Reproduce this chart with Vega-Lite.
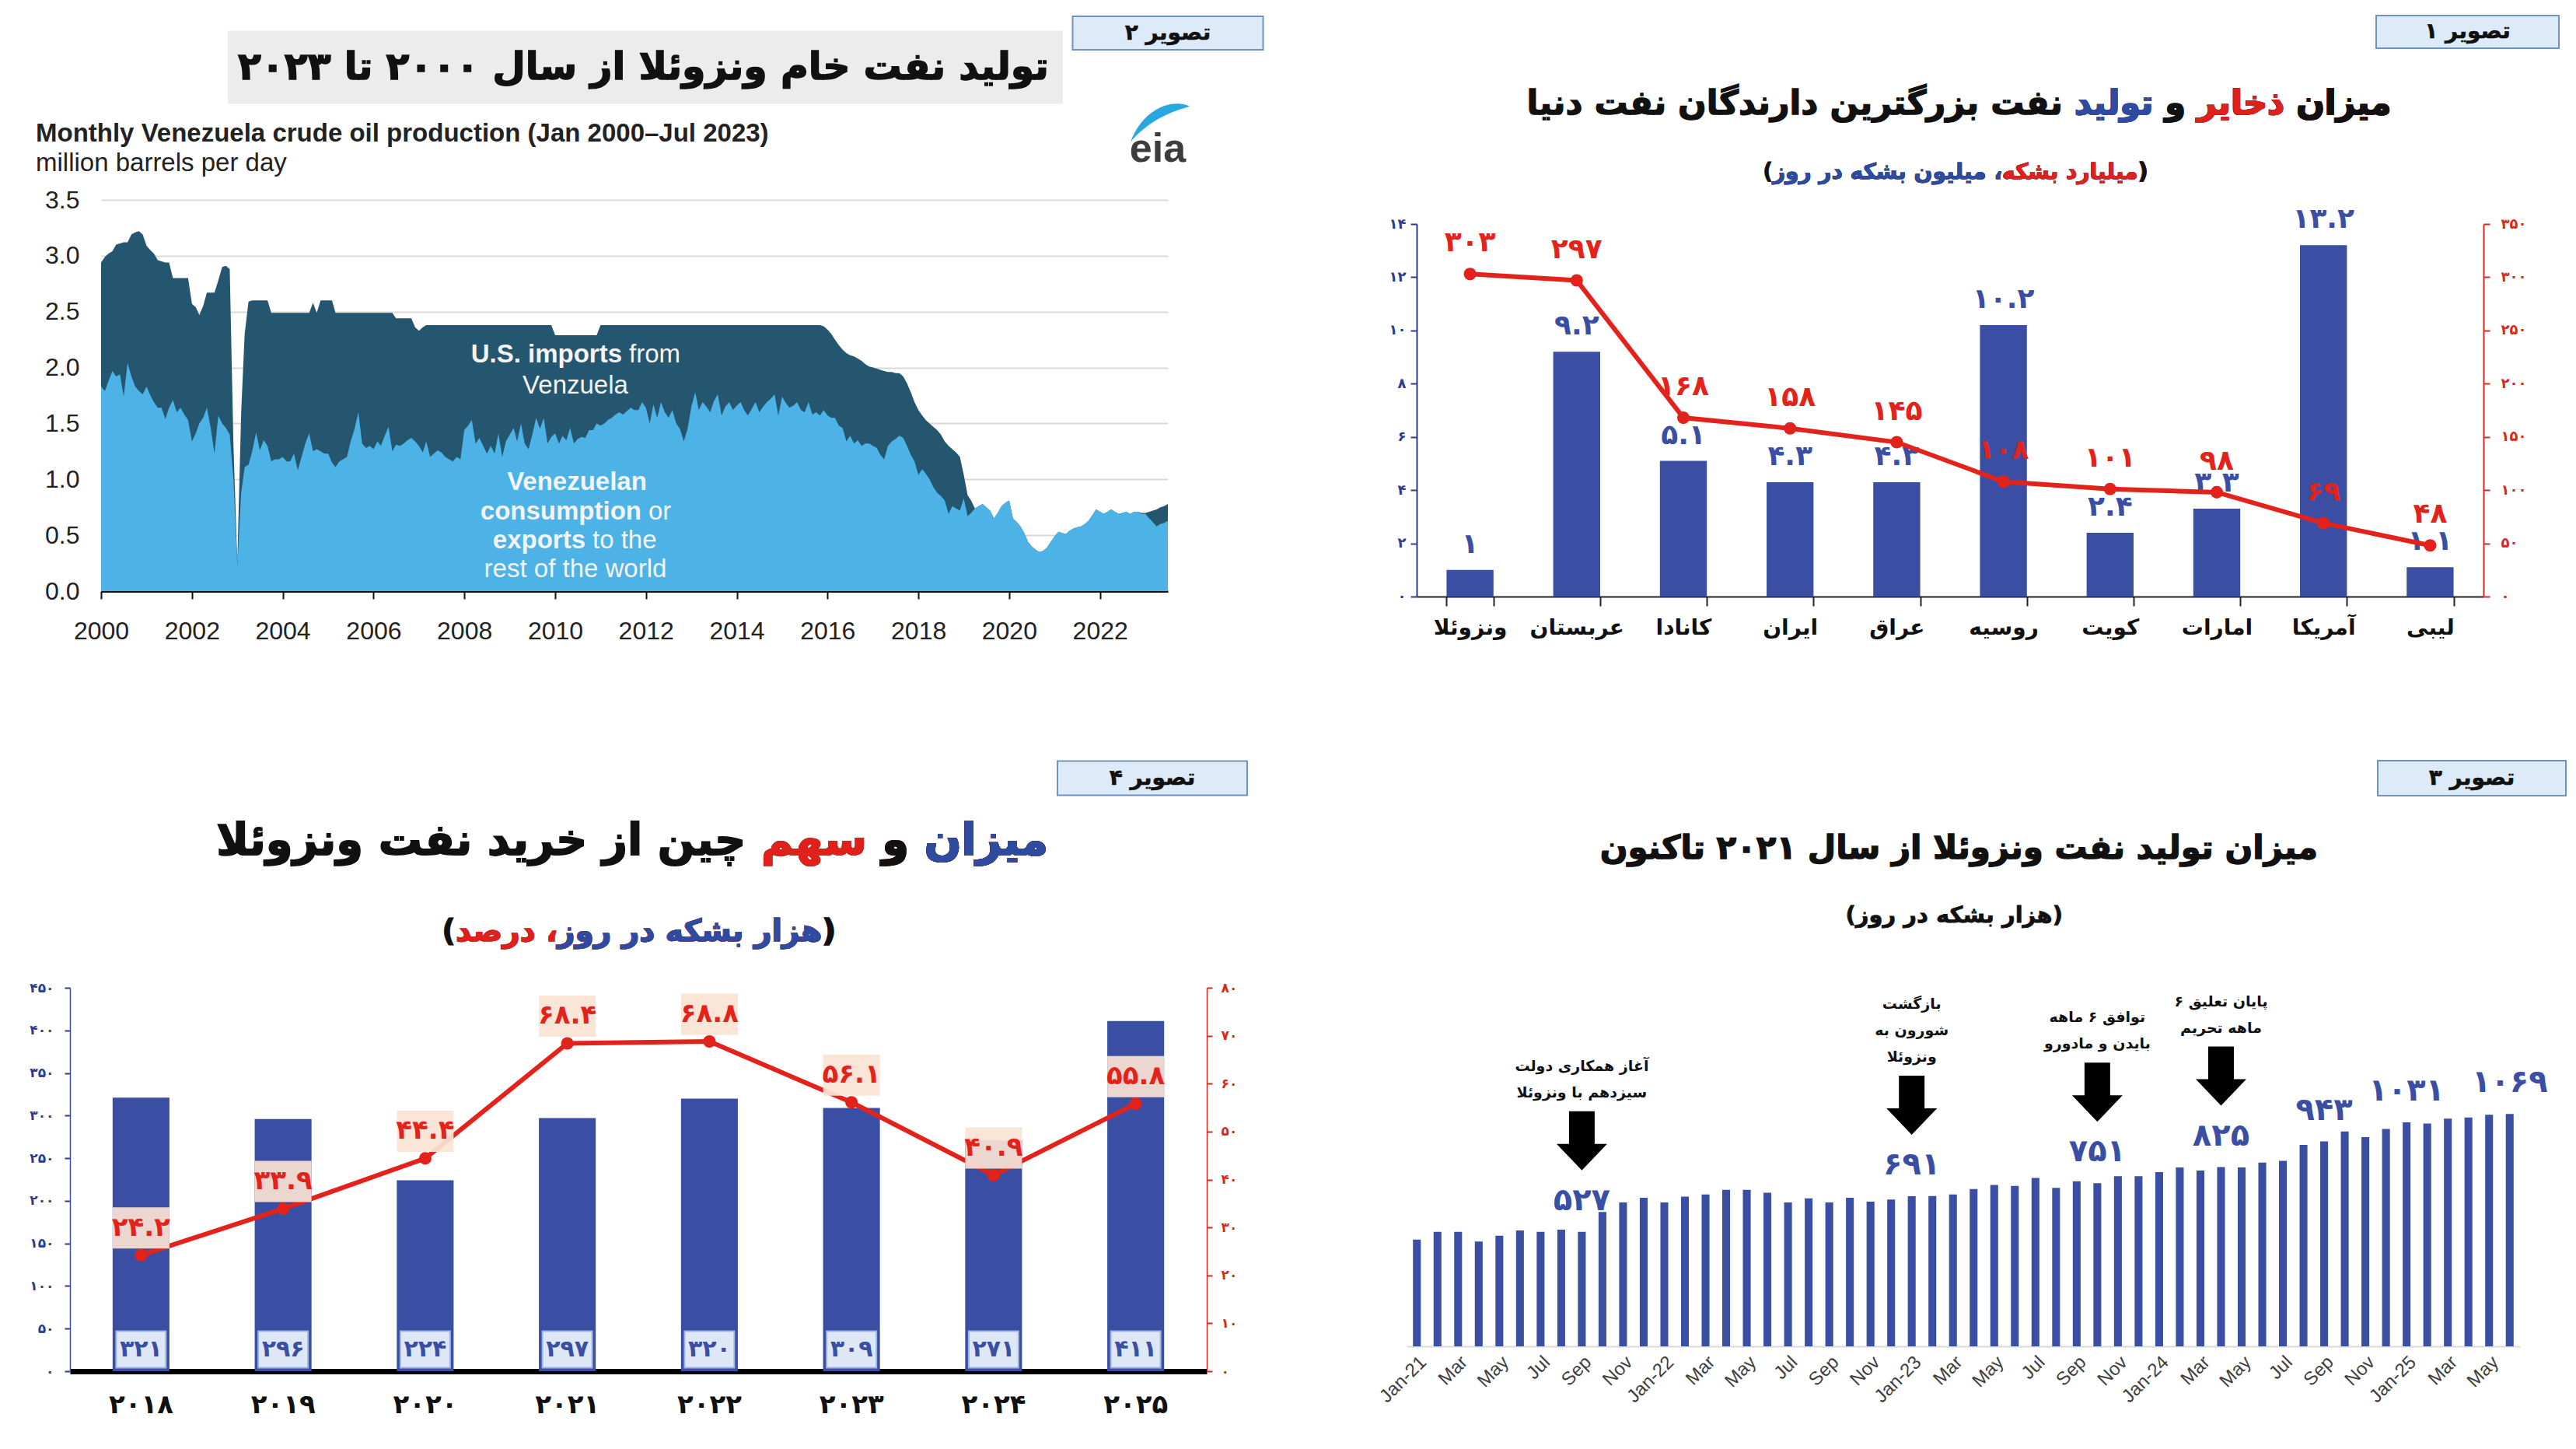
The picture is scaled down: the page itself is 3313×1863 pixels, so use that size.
{
  "$schema": "https://vega.github.io/schema/vega-lite/v6.json",
  "padding": 0,
  "background": "white",
  "config": {"view": {"stroke": null}, "text": {"font": "DejaVu Sans"}},
  "datasets": {
    "eia": [
      {"d":"2000-01","total":2.94,"rest":1.83},{"d":"2000-02","total":2.99,"rest":1.79},{"d":"2000-03","total":3.02,"rest":1.88},{"d":"2000-04","total":3.04,"rest":1.97},{"d":"2000-05","total":3.10,"rest":1.92},{"d":"2000-06","total":3.11,"rest":1.94},{"d":"2000-07","total":3.12,"rest":1.74},{"d":"2000-08","total":3.12,"rest":2.04},{"d":"2000-09","total":3.19,"rest":1.92},{"d":"2000-10","total":3.21,"rest":1.83},{"d":"2000-11","total":3.22,"rest":1.79},{"d":"2000-12","total":3.19,"rest":1.76},
      {"d":"2001-01","total":3.09,"rest":1.83},{"d":"2001-02","total":3.05,"rest":1.75},{"d":"2001-03","total":3.02,"rest":1.69},{"d":"2001-04","total":2.96,"rest":1.64},{"d":"2001-05","total":2.95,"rest":1.64},{"d":"2001-06","total":2.94,"rest":1.54},{"d":"2001-07","total":2.94,"rest":1.64},{"d":"2001-08","total":2.80,"rest":1.71},{"d":"2001-09","total":2.80,"rest":1.60},{"d":"2001-10","total":2.80,"rest":1.64},{"d":"2001-11","total":2.80,"rest":1.58},{"d":"2001-12","total":2.80,"rest":1.53},
      {"d":"2002-01","total":2.57,"rest":1.34},{"d":"2002-02","total":2.54,"rest":1.41},{"d":"2002-03","total":2.47,"rest":1.50},{"d":"2002-04","total":2.55,"rest":1.55},{"d":"2002-05","total":2.67,"rest":1.64},{"d":"2002-06","total":2.67,"rest":1.46},{"d":"2002-07","total":2.67,"rest":1.23},{"d":"2002-08","total":2.78,"rest":1.57},{"d":"2002-09","total":2.90,"rest":1.50},{"d":"2002-10","total":2.91,"rest":1.46},{"d":"2002-11","total":2.88,"rest":1.40},{"d":"2002-12","total":1.30,"rest":1.00},
      {"d":"2003-01","total":0.25,"rest":0.23},{"d":"2003-02","total":1.60,"rest":0.88},{"d":"2003-03","total":2.30,"rest":1.11},{"d":"2003-04","total":2.59,"rest":1.13},{"d":"2003-05","total":2.60,"rest":1.25},{"d":"2003-06","total":2.60,"rest":1.42},{"d":"2003-07","total":2.60,"rest":1.26},{"d":"2003-08","total":2.60,"rest":1.35},{"d":"2003-09","total":2.60,"rest":1.30},{"d":"2003-10","total":2.49,"rest":1.16},{"d":"2003-11","total":2.49,"rest":1.18},{"d":"2003-12","total":2.49,"rest":1.18},
      {"d":"2004-01","total":2.49,"rest":1.20},{"d":"2004-02","total":2.49,"rest":1.16},{"d":"2004-03","total":2.49,"rest":1.16},{"d":"2004-04","total":2.49,"rest":1.23},{"d":"2004-05","total":2.49,"rest":1.08},{"d":"2004-06","total":2.49,"rest":1.20},{"d":"2004-07","total":2.49,"rest":1.32},{"d":"2004-08","total":2.49,"rest":1.41},{"d":"2004-09","total":2.58,"rest":1.25},{"d":"2004-10","total":2.49,"rest":1.27},{"d":"2004-11","total":2.60,"rest":1.25},{"d":"2004-12","total":2.60,"rest":1.23},
      {"d":"2005-01","total":2.60,"rest":1.23},{"d":"2005-02","total":2.60,"rest":1.15},{"d":"2005-03","total":2.49,"rest":1.11},{"d":"2005-04","total":2.49,"rest":1.16},{"d":"2005-05","total":2.49,"rest":1.18},{"d":"2005-06","total":2.49,"rest":1.20},{"d":"2005-07","total":2.49,"rest":1.34},{"d":"2005-08","total":2.49,"rest":1.45},{"d":"2005-09","total":2.49,"rest":1.60},{"d":"2005-10","total":2.49,"rest":1.32},{"d":"2005-11","total":2.49,"rest":1.28},{"d":"2005-12","total":2.49,"rest":1.30},
      {"d":"2006-01","total":2.49,"rest":1.27},{"d":"2006-02","total":2.49,"rest":1.34},{"d":"2006-03","total":2.49,"rest":1.30},{"d":"2006-04","total":2.49,"rest":1.39},{"d":"2006-05","total":2.49,"rest":1.47},{"d":"2006-06","total":2.49,"rest":1.25},{"d":"2006-07","total":2.44,"rest":1.31},{"d":"2006-08","total":2.44,"rest":1.30},{"d":"2006-09","total":2.44,"rest":1.32},{"d":"2006-10","total":2.44,"rest":1.35},{"d":"2006-11","total":2.44,"rest":1.37},{"d":"2006-12","total":2.36,"rest":1.34},
      {"d":"2007-01","total":2.33,"rest":1.30},{"d":"2007-02","total":2.36,"rest":1.24},{"d":"2007-03","total":2.38,"rest":1.34},{"d":"2007-04","total":2.38,"rest":1.20},{"d":"2007-05","total":2.38,"rest":1.23},{"d":"2007-06","total":2.38,"rest":1.26},{"d":"2007-07","total":2.38,"rest":1.24},{"d":"2007-08","total":2.38,"rest":1.20},{"d":"2007-09","total":2.38,"rest":1.18},{"d":"2007-10","total":2.38,"rest":1.16},{"d":"2007-11","total":2.38,"rest":1.20},{"d":"2007-12","total":2.38,"rest":1.18},
      {"d":"2008-01","total":2.38,"rest":1.44},{"d":"2008-02","total":2.38,"rest":1.48},{"d":"2008-03","total":2.38,"rest":1.53},{"d":"2008-04","total":2.38,"rest":1.32},{"d":"2008-05","total":2.38,"rest":1.37},{"d":"2008-06","total":2.38,"rest":1.30},{"d":"2008-07","total":2.38,"rest":1.23},{"d":"2008-08","total":2.38,"rest":1.30},{"d":"2008-09","total":2.38,"rest":1.23},{"d":"2008-10","total":2.38,"rest":1.41},{"d":"2008-11","total":2.38,"rest":1.20},{"d":"2008-12","total":2.38,"rest":1.34},
      {"d":"2009-01","total":2.38,"rest":1.40},{"d":"2009-02","total":2.38,"rest":1.46},{"d":"2009-03","total":2.38,"rest":1.34},{"d":"2009-04","total":2.38,"rest":1.50},{"d":"2009-05","total":2.38,"rest":1.32},{"d":"2009-06","total":2.38,"rest":1.27},{"d":"2009-07","total":2.38,"rest":1.40},{"d":"2009-08","total":2.38,"rest":1.55},{"d":"2009-09","total":2.38,"rest":1.45},{"d":"2009-10","total":2.38,"rest":1.55},{"d":"2009-11","total":2.38,"rest":1.32},{"d":"2009-12","total":2.38,"rest":1.38},
      {"d":"2010-01","total":2.29,"rest":1.41},{"d":"2010-02","total":2.29,"rest":1.32},{"d":"2010-03","total":2.29,"rest":1.39},{"d":"2010-04","total":2.29,"rest":1.35},{"d":"2010-05","total":2.29,"rest":1.46},{"d":"2010-06","total":2.29,"rest":1.32},{"d":"2010-07","total":2.29,"rest":1.36},{"d":"2010-08","total":2.29,"rest":1.38},{"d":"2010-09","total":2.29,"rest":1.37},{"d":"2010-10","total":2.29,"rest":1.44},{"d":"2010-11","total":2.29,"rest":1.44},{"d":"2010-12","total":2.29,"rest":1.50},
      {"d":"2011-01","total":2.38,"rest":1.48},{"d":"2011-02","total":2.38,"rest":1.50},{"d":"2011-03","total":2.38,"rest":1.53},{"d":"2011-04","total":2.38,"rest":1.55},{"d":"2011-05","total":2.38,"rest":1.58},{"d":"2011-06","total":2.38,"rest":1.60},{"d":"2011-07","total":2.38,"rest":1.58},{"d":"2011-08","total":2.38,"rest":1.61},{"d":"2011-09","total":2.38,"rest":1.64},{"d":"2011-10","total":2.38,"rest":1.62},{"d":"2011-11","total":2.38,"rest":1.62},{"d":"2011-12","total":2.38,"rest":1.69},
      {"d":"2012-01","total":2.38,"rest":1.64},{"d":"2012-02","total":2.38,"rest":1.50},{"d":"2012-03","total":2.38,"rest":1.67},{"d":"2012-04","total":2.38,"rest":1.55},{"d":"2012-05","total":2.38,"rest":1.69},{"d":"2012-06","total":2.38,"rest":1.60},{"d":"2012-07","total":2.38,"rest":1.55},{"d":"2012-08","total":2.38,"rest":1.62},{"d":"2012-09","total":2.38,"rest":1.50},{"d":"2012-10","total":2.38,"rest":1.45},{"d":"2012-11","total":2.38,"rest":1.34},{"d":"2012-12","total":2.38,"rest":1.45},
      {"d":"2013-01","total":2.38,"rest":1.65},{"d":"2013-02","total":2.38,"rest":1.78},{"d":"2013-03","total":2.38,"rest":1.62},{"d":"2013-04","total":2.38,"rest":1.69},{"d":"2013-05","total":2.38,"rest":1.65},{"d":"2013-06","total":2.38,"rest":1.60},{"d":"2013-07","total":2.38,"rest":1.70},{"d":"2013-08","total":2.38,"rest":1.76},{"d":"2013-09","total":2.38,"rest":1.57},{"d":"2013-10","total":2.38,"rest":1.65},{"d":"2013-11","total":2.38,"rest":1.69},{"d":"2013-12","total":2.38,"rest":1.62},
      {"d":"2014-01","total":2.38,"rest":1.66},{"d":"2014-02","total":2.38,"rest":1.69},{"d":"2014-03","total":2.38,"rest":1.62},{"d":"2014-04","total":2.38,"rest":1.57},{"d":"2014-05","total":2.38,"rest":1.63},{"d":"2014-06","total":2.38,"rest":1.69},{"d":"2014-07","total":2.38,"rest":1.60},{"d":"2014-08","total":2.38,"rest":1.65},{"d":"2014-09","total":2.38,"rest":1.69},{"d":"2014-10","total":2.38,"rest":1.72},{"d":"2014-11","total":2.38,"rest":1.76},{"d":"2014-12","total":2.38,"rest":1.57},
      {"d":"2015-01","total":2.38,"rest":1.74},{"d":"2015-02","total":2.38,"rest":1.68},{"d":"2015-03","total":2.38,"rest":1.64},{"d":"2015-04","total":2.38,"rest":1.66},{"d":"2015-05","total":2.38,"rest":1.69},{"d":"2015-06","total":2.38,"rest":1.62},{"d":"2015-07","total":2.38,"rest":1.60},{"d":"2015-08","total":2.38,"rest":1.69},{"d":"2015-09","total":2.38,"rest":1.58},{"d":"2015-10","total":2.38,"rest":1.60},{"d":"2015-11","total":2.38,"rest":1.57},{"d":"2015-12","total":2.37,"rest":1.62},
      {"d":"2016-01","total":2.34,"rest":1.57},{"d":"2016-02","total":2.30,"rest":1.55},{"d":"2016-03","total":2.25,"rest":1.55},{"d":"2016-04","total":2.20,"rest":1.48},{"d":"2016-05","total":2.16,"rest":1.46},{"d":"2016-06","total":2.13,"rest":1.34},{"d":"2016-07","total":2.11,"rest":1.39},{"d":"2016-08","total":2.10,"rest":1.32},{"d":"2016-09","total":2.08,"rest":1.35},{"d":"2016-10","total":2.06,"rest":1.30},{"d":"2016-11","total":2.03,"rest":1.32},{"d":"2016-12","total":2.01,"rest":1.32},
      {"d":"2017-01","total":2.00,"rest":1.30},{"d":"2017-02","total":1.99,"rest":1.28},{"d":"2017-03","total":1.98,"rest":1.22},{"d":"2017-04","total":1.97,"rest":1.18},{"d":"2017-05","total":1.96,"rest":1.30},{"d":"2017-06","total":1.96,"rest":1.34},{"d":"2017-07","total":1.95,"rest":1.36},{"d":"2017-08","total":1.95,"rest":1.39},{"d":"2017-09","total":1.92,"rest":1.37},{"d":"2017-10","total":1.86,"rest":1.30},{"d":"2017-11","total":1.78,"rest":1.22},{"d":"2017-12","total":1.69,"rest":1.16},
      {"d":"2018-01","total":1.62,"rest":1.04},{"d":"2018-02","total":1.57,"rest":1.09},{"d":"2018-03","total":1.53,"rest":1.05},{"d":"2018-04","total":1.50,"rest":1.00},{"d":"2018-05","total":1.47,"rest":0.93},{"d":"2018-06","total":1.44,"rest":0.88},{"d":"2018-07","total":1.40,"rest":0.85},{"d":"2018-08","total":1.34,"rest":0.81},{"d":"2018-09","total":1.30,"rest":0.69},{"d":"2018-10","total":1.27,"rest":0.76},{"d":"2018-11","total":1.24,"rest":0.74},{"d":"2018-12","total":1.20,"rest":0.72},
      {"d":"2019-01","total":1.04,"rest":0.83},{"d":"2019-02","total":0.86,"rest":0.67},{"d":"2019-03","total":0.81,"rest":0.70},{"d":"2019-04","total":0.74,"rest":0.74},{"d":"2019-05","total":0.76,"rest":0.76},{"d":"2019-06","total":0.78,"rest":0.78},{"d":"2019-07","total":0.75,"rest":0.75},{"d":"2019-08","total":0.72,"rest":0.72},{"d":"2019-09","total":0.65,"rest":0.65},{"d":"2019-10","total":0.70,"rest":0.70},{"d":"2019-11","total":0.76,"rest":0.76},{"d":"2019-12","total":0.79,"rest":0.79},
      {"d":"2020-01","total":0.81,"rest":0.81},{"d":"2020-02","total":0.65,"rest":0.65},{"d":"2020-03","total":0.62,"rest":0.62},{"d":"2020-04","total":0.58,"rest":0.58},{"d":"2020-05","total":0.52,"rest":0.52},{"d":"2020-06","total":0.44,"rest":0.44},{"d":"2020-07","total":0.40,"rest":0.40},{"d":"2020-08","total":0.37,"rest":0.37},{"d":"2020-09","total":0.35,"rest":0.35},{"d":"2020-10","total":0.36,"rest":0.36},{"d":"2020-11","total":0.39,"rest":0.39},{"d":"2020-12","total":0.44,"rest":0.44},
      {"d":"2021-01","total":0.49,"rest":0.49},{"d":"2021-02","total":0.53,"rest":0.53},{"d":"2021-03","total":0.52,"rest":0.52},{"d":"2021-04","total":0.51,"rest":0.51},{"d":"2021-05","total":0.54,"rest":0.54},{"d":"2021-06","total":0.56,"rest":0.56},{"d":"2021-07","total":0.57,"rest":0.57},{"d":"2021-08","total":0.58,"rest":0.58},{"d":"2021-09","total":0.60,"rest":0.60},{"d":"2021-10","total":0.63,"rest":0.63},{"d":"2021-11","total":0.68,"rest":0.68},{"d":"2021-12","total":0.73,"rest":0.73},
      {"d":"2022-01","total":0.71,"rest":0.71},{"d":"2022-02","total":0.69,"rest":0.69},{"d":"2022-03","total":0.71,"rest":0.71},{"d":"2022-04","total":0.73,"rest":0.73},{"d":"2022-05","total":0.71,"rest":0.71},{"d":"2022-06","total":0.69,"rest":0.69},{"d":"2022-07","total":0.70,"rest":0.70},{"d":"2022-08","total":0.71,"rest":0.71},{"d":"2022-09","total":0.69,"rest":0.69},{"d":"2022-10","total":0.71,"rest":0.71},{"d":"2022-11","total":0.71,"rest":0.71},{"d":"2022-12","total":0.70,"rest":0.69},
      {"d":"2023-01","total":0.70,"rest":0.69},{"d":"2023-02","total":0.71,"rest":0.65},{"d":"2023-03","total":0.72,"rest":0.62},{"d":"2023-04","total":0.73,"rest":0.58},{"d":"2023-05","total":0.75,"rest":0.60},{"d":"2023-06","total":0.76,"rest":0.61},{"d":"2023-07","total":0.78,"rest":0.63}
    ],
    "p1": [
      {"c":"ونزوئلا","prod":1,"res":303},{"c":"عربستان","prod":9.2,"res":297},{"c":"کانادا","prod":5.1,"res":168},{"c":"ایران","prod":4.3,"res":158},{"c":"عراق","prod":4.3,"res":145},{"c":"روسیه","prod":10.2,"res":108},{"c":"کویت","prod":2.4,"res":101},{"c":"امارات","prod":3.3,"res":98},{"c":"آمریکا","prod":13.2,"res":69},{"c":"لیبی","prod":1.1,"res":48}
    ],
    "p3": [
      {"m":"Jan-21","v":491},{"m":"Feb-21","v":527},{"m":"Mar-21","v":527},{"m":"Apr-21","v":482},{"m":"May-21","v":509},{"m":"Jun-21","v":533},{"m":"Jul-21","v":527},{"m":"Aug-21","v":537},{"m":"Sep-21","v":527},{"m":"Oct-21","v":618},{"m":"Nov-21","v":662},{"m":"Dec-21","v":684},
      {"m":"Jan-22","v":662},{"m":"Feb-22","v":689},{"m":"Mar-22","v":699},{"m":"Apr-22","v":720},{"m":"May-22","v":720},{"m":"Jun-22","v":707},{"m":"Jul-22","v":662},{"m":"Aug-22","v":681},{"m":"Sep-22","v":662},{"m":"Oct-22","v":684},{"m":"Nov-22","v":666},{"m":"Dec-22","v":676},
      {"m":"Jan-23","v":691},{"m":"Feb-23","v":692},{"m":"Mar-23","v":699},{"m":"Apr-23","v":724},{"m":"May-23","v":743},{"m":"Jun-23","v":738},{"m":"Jul-23","v":775},{"m":"Aug-23","v":729},{"m":"Sep-23","v":760},{"m":"Oct-23","v":751},{"m":"Nov-23","v":783},{"m":"Dec-23","v":783},
      {"m":"Jan-24","v":802},{"m":"Feb-24","v":823},{"m":"Mar-24","v":809},{"m":"Apr-24","v":825},{"m":"May-24","v":823},{"m":"Jun-24","v":846},{"m":"Jul-24","v":854},{"m":"Aug-24","v":927},{"m":"Sep-24","v":943},{"m":"Oct-24","v":989},{"m":"Nov-24","v":963},{"m":"Dec-24","v":1000},
      {"m":"Jan-25","v":1031},{"m":"Feb-25","v":1025},{"m":"Mar-25","v":1048},{"m":"Apr-25","v":1053},{"m":"May-25","v":1066},{"m":"Jun-25","v":1069}
    ],
    "notes": [
      {"m":"Sep-21","note":["","آغاز همکاری دولت","سیزدهم با ونزوئلا"]},
      {"m":"Jan-23","note":["بازگشت","شورون به","ونزوئلا"]},
      {"m":"Oct-23","note":["","توافق ۶ ماهه","بایدن و مادورو"]},
      {"m":"Apr-24","note":["","پایان تعلیق ۶","ماهه تحریم"]}
    ],
    "p4": [
      {"yr":"2018","v":321,"s":24.2},{"yr":"2019","v":296,"s":33.9},{"yr":"2020","v":224,"s":44.4},{"yr":"2021","v":297,"s":68.4},{"yr":"2022","v":320,"s":68.8},{"yr":"2023","v":309,"s":56.1},{"yr":"2024","v":271,"s":40.9},{"yr":"2025","v":411,"s":55.8}
    ]
  },
  "columns": 4,
  "bounds": "flush",
  "align": "each",
  "spacing": 0,
  "concat": [
    {"width": 90, "height": 257, "data": {"values": []}, "mark": {"type": "point", "opacity": 0}},
    {"width": 1, "height": 1, "data": {"values": []}, "mark": {"type": "point", "opacity": 0}},
    {"width": 257, "height": 1, "data": {"values": []}, "mark": {"type": "point", "opacity": 0}},
    {"width": 1, "height": 1, "data": {"values": []}, "mark": {"type": "point", "opacity": 0}},

    {"width": 1, "height": 1, "data": {"values": []}, "mark": {"type": "point", "opacity": 0}},
    {
      "width": 1412, "height": 503,
      "data": {"name": "eia"},
      "layer": [
        {
          "mark": {"type": "area", "color": "#24566f", "opacity": 1},
          "encoding": {
            "x": {"field": "d", "type": "temporal", "scale": {"domain": [{"year": 2000, "month": 1, "date": 1}, {"year": 2023, "month": 7, "date": 1}], "range": [40, 1412]},
                  "axis": {"title": null, "format": "%Y", "tickCount": {"interval": "year", "step": 2}, "grid": false, "labelFont": "Liberation Sans", "labelFontSize": 32, "labelColor": "#222", "labelPadding": 26, "labelFlush": false, "domainColor": "#111", "domainWidth": 3, "tickColor": "#111", "tickWidth": 2, "tickSize": 10}},
            "y": {"field": "total", "type": "quantitative", "scale": {"domain": [0, 3.5], "nice": false},
                  "axis": {"title": null, "offset": -40, "values": [0, 0.5, 1, 1.5, 2, 2.5, 3, 3.5], "format": ".1f", "grid": true, "gridColor": "#d9d9d9", "gridWidth": 2, "domain": false, "ticks": false, "labelFont": "Liberation Sans", "labelFontSize": 32, "labelColor": "#222", "labelPadding": 28}}
          }
        },
        {
          "mark": {"type": "area", "color": "#4db3e6", "opacity": 1},
          "encoding": {
            "x": {"field": "d", "type": "temporal"},
            "y": {"field": "rest", "type": "quantitative"}
          }
        },
        {"data": {"values": [{}]}, "mark": {"type": "text", "text": "U.S. imports", "align": "right", "baseline": "middle", "dx": 4, "dy": -53, "font": "Liberation Sans", "fontWeight": "bold", "fontSize": 33, "color": "#f4f4f4"}},
        {"data": {"values": [{}]}, "mark": {"type": "text", "text": "from", "align": "left", "baseline": "middle", "dx": 13, "dy": -53, "font": "Liberation Sans", "fontSize": 33, "color": "#f4f4f4"}},
        {"data": {"values": [{}]}, "mark": {"type": "text", "text": "Venzuela", "align": "center", "baseline": "middle", "dx": -56, "dy": -13, "font": "Liberation Sans", "fontSize": 33, "color": "#f4f4f4"}},
        {"data": {"values": [{}]}, "mark": {"type": "text", "text": "Venezuelan", "align": "center", "baseline": "middle", "dx": -54, "dy": 111, "font": "Liberation Sans", "fontWeight": "bold", "fontSize": 33, "color": "#f4f4f4"}},
        {"data": {"values": [{}]}, "mark": {"type": "text", "text": "consumption", "align": "right", "baseline": "middle", "dx": 29, "dy": 149, "font": "Liberation Sans", "fontWeight": "bold", "fontSize": 33, "color": "#f4f4f4"}},
        {"data": {"values": [{}]}, "mark": {"type": "text", "text": "or", "align": "left", "baseline": "middle", "dx": 38, "dy": 149, "font": "Liberation Sans", "fontSize": 33, "color": "#f4f4f4"}},
        {"data": {"values": [{}]}, "mark": {"type": "text", "text": "exports", "align": "right", "baseline": "middle", "dx": -43, "dy": 186, "font": "Liberation Sans", "fontWeight": "bold", "fontSize": 33, "color": "#f4f4f4"}},
        {"data": {"values": [{}]}, "mark": {"type": "text", "text": "to the", "align": "left", "baseline": "middle", "dx": -34, "dy": 186, "font": "Liberation Sans", "fontSize": 33, "color": "#f4f4f4"}},
        {"data": {"values": [{}]}, "mark": {"type": "text", "text": "rest of the world", "align": "center", "baseline": "middle", "dx": -56, "dy": 223, "font": "Liberation Sans", "fontSize": 33, "color": "#f4f4f4"}},
        {"data": {"values": [{}]}, "mark": {"type": "text", "text": "Monthly Venezuela crude oil production (Jan 2000–Jul 2023)", "align": "left", "baseline": "middle", "dx": -750, "dy": -337, "font": "Liberation Sans", "fontWeight": "bold", "fontSize": 33, "color": "#222"}},
        {"data": {"values": [{}]}, "mark": {"type": "text", "text": "million barrels per day", "align": "left", "baseline": "middle", "dx": -750, "dy": -299, "font": "Liberation Sans", "fontSize": 33, "color": "#222"}},
        {"data": {"values": [{}]}, "mark": {"type": "point", "shape": "M-1,0.5C-0.6,-0.6,0.4,-1,1,-0.7C0.3,-0.5,-0.4,-0.2,-1,0.5Z", "size": 5776, "filled": true, "color": "#29a8e0", "opacity": 1, "xOffset": 696, "yOffset": -345}},
        {"data": {"values": [{}]}, "mark": {"type": "text", "text": "eia", "align": "center", "baseline": "middle", "dx": 693, "dy": -317, "font": "Liberation Sans", "fontWeight": "bold", "fontSize": 52, "color": "#3d3d3d"}},
        {"data": {"values": [{}]}, "mark": {"type": "point", "shape": "M-1,-0.0875L1,-0.0875L1,0.0875L-1,0.0875Z", "size": 1153476, "filled": true, "color": "#ececec", "opacity": 1, "xOffset": 34, "yOffset": -422}},
        {"data": {"values": [{}]}, "mark": {"type": "text", "text": "تولید نفت خام ونزوئلا از سال ۲۰۰۰ تا ۲۰۲۳", "align": "right", "baseline": "middle", "dx": 553, "dy": -422, "font": "DejaVu Sans", "fontWeight": "bold", "fontSize": 49, "color": "#111", "stroke": "#111", "strokeWidth": 1.5}},
        {"data": {"values": [{}]}, "mark": {"type": "point", "shape": "M-1,-0.1755L1,-0.1755L1,0.1755L-1,0.1755Z", "size": 60025, "filled": true, "fill": "#dcebf7", "stroke": "#6f93c0", "strokeWidth": 2, "opacity": 1, "xOffset": 706, "yOffset": -466}},
        {"data": {"values": [{}]}, "mark": {"type": "text", "text": "تصویر ۲", "align": "center", "baseline": "middle", "dx": 706, "dy": -466, "font": "DejaVu Sans", "fontWeight": "bold", "fontSize": 28, "color": "#111", "stroke": "#111", "strokeWidth": 0.6}}
      ]
    },
    {"width": 1, "height": 1, "data": {"values": []}, "mark": {"type": "point", "opacity": 0}},
    {
      "width": 1385, "height": 510,
      "data": {"name": "p1"},
      "resolve": {"scale": {"y": "independent"}},
      "layer": [
        {
          "encoding": {
            "x": {"field": "c", "type": "nominal", "sort": null, "scale": {"paddingInner": 0.56, "paddingOuter": 0.28, "range": [13, 1385]},
                  "axis": {"title": null, "labelAngle": 0, "labelFont": "DejaVu Sans", "labelFontWeight": "bold", "labelFontSize": 28, "labelColor": "#111", "labelPadding": 14, "domainColor": "#222", "domainWidth": 2, "ticks": true, "tickColor": "#222", "tickWidth": 2, "tickSize": 12, "tickBand": "extent"}},
            "y": {"field": "prod", "type": "quantitative", "scale": {"domain": [0, 14], "nice": false, "range": [510, 31]},
                  "axis": {"title": null, "offset": -13, "values": [0, 2, 4, 6, 8, 10, 12, 14], "grid": false, "labelExpr": "replace(replace(replace(replace(replace(replace(replace(replace(replace(replace(''+datum.label,/0/g,'۰'),/1/g,'۱'),/2/g,'۲'),/3/g,'۳'),/4/g,'۴'),/5/g,'۵'),/6/g,'۶'),/7/g,'۷'),/8/g,'۸'),/9/g,'۹')", "labelColor": "#2e3a8c", "labelFontSize": 18, "labelFont": "DejaVu Sans", "labelFontWeight": "bold", "domainColor": "#2e3a8c", "domainWidth": 2, "tickColor": "#2e3a8c", "tickSize": 8, "tickWidth": 2, "labelPadding": 6}}
          },
          "layer": [
            {"mark": {"type": "bar", "color": "#3a4fa3"}},
            {"mark": {"type": "text", "text": {"expr": "replace(replace(replace(replace(replace(replace(replace(replace(replace(replace(''+datum.prod,/0/g,'۰'),/1/g,'۱'),/2/g,'۲'),/3/g,'۳'),/4/g,'۴'),/5/g,'۵'),/6/g,'۶'),/7/g,'۷'),/8/g,'۸'),/9/g,'۹')"}, "dy": -33, "baseline": "middle", "font": "DejaVu Sans", "fontWeight": "bold", "fontSize": 36, "color": "#3a4fa3"}}
          ]
        },
        {
          "encoding": {
            "x": {"field": "c", "type": "nominal", "sort": null},
            "y": {"field": "res", "type": "quantitative", "scale": {"domain": [0, 350], "nice": false, "range": [510, 31]},
                  "axis": {"orient": "right", "title": null, "values": [0, 50, 100, 150, 200, 250, 300, 350], "grid": false, "labelExpr": "replace(replace(replace(replace(replace(replace(replace(replace(replace(replace(''+datum.label,/0/g,'۰'),/1/g,'۱'),/2/g,'۲'),/3/g,'۳'),/4/g,'۴'),/5/g,'۵'),/6/g,'۶'),/7/g,'۷'),/8/g,'۸'),/9/g,'۹')", "labelColor": "#d42a20", "labelFontSize": 18, "labelFont": "DejaVu Sans", "labelFontWeight": "bold", "domainColor": "#d42a20", "domainWidth": 2, "tickColor": "#d42a20", "tickSize": 8, "tickWidth": 2, "labelPadding": 14}}
          },
          "layer": [
            {"mark": {"type": "line", "color": "#e3221b", "strokeWidth": 6}},
            {"mark": {"type": "point", "filled": true, "color": "#e3221b", "size": 260, "opacity": 1}},
            {"mark": {"type": "text", "text": {"expr": "replace(replace(replace(replace(replace(replace(replace(replace(replace(replace(''+datum.res,/0/g,'۰'),/1/g,'۱'),/2/g,'۲'),/3/g,'۳'),/4/g,'۴'),/5/g,'۵'),/6/g,'۶'),/7/g,'۷'),/8/g,'۸'),/9/g,'۹')"}, "dy": -40, "baseline": "middle", "font": "DejaVu Sans", "fontWeight": "bold", "fontSize": 36, "color": "#e3221b"}}
          ]
        },
        {"data": {"values": [{}]}, "mark": {"type": "point", "shape": "M-1,-0.1787L1,-0.1787L1,0.1787L-1,0.1787Z", "size": 55225, "filled": true, "fill": "#dcebf7", "stroke": "#6f93c0", "strokeWidth": 2, "opacity": 1, "xOffset": 672, "yOffset": -471}},
        {"data": {"values": [{}]}, "mark": {"type": "text", "text": "تصویر ۱", "align": "center", "baseline": "middle", "dx": 672, "dy": -471, "font": "DejaVu Sans", "fontWeight": "bold", "fontSize": 28, "color": "#111", "stroke": "#111", "strokeWidth": 0.6}},
        {"data": {"values": [{}]}, "mark": {"type": "text", "text": "میزان ذخایر و تولید نفت بزرگترین دارندگان نفت دنیا", "align": "right", "baseline": "middle", "dx": 574, "dy": -378, "font": "DejaVu Sans", "fontWeight": "bold", "fontSize": 43, "color": "#111", "stroke": "#111", "strokeWidth": 1.4}},
        {"data": {"values": [{}]}, "mark": {"type": "text", "text": "میزان ذخایر و تولید", "align": "right", "baseline": "middle", "dx": 574, "dy": -378, "font": "DejaVu Sans", "fontWeight": "bold", "fontSize": 43, "color": "#2f4ba0", "stroke": "#2f4ba0", "strokeWidth": 1.4}},
        {"data": {"values": [{}]}, "mark": {"type": "text", "text": "میزان ذخایر و", "align": "right", "baseline": "middle", "dx": 574, "dy": -378, "font": "DejaVu Sans", "fontWeight": "bold", "fontSize": 43, "color": "#111", "stroke": "#111", "strokeWidth": 1.4}},
        {"data": {"values": [{}]}, "mark": {"type": "text", "text": "میزان ذخایر", "align": "right", "baseline": "middle", "dx": 574, "dy": -378, "font": "DejaVu Sans", "fontWeight": "bold", "fontSize": 43, "color": "#e0201b", "stroke": "#e0201b", "strokeWidth": 1.4}},
        {"data": {"values": [{}]}, "mark": {"type": "text", "text": "میزان", "align": "right", "baseline": "middle", "dx": 574, "dy": -378, "font": "DejaVu Sans", "fontWeight": "bold", "fontSize": 43, "color": "#111", "stroke": "#111", "strokeWidth": 1.4}},
        {"data": {"values": [{}]}, "mark": {"type": "text", "text": "(میلیارد بشکه، میلیون بشکه در روز)", "align": "right", "baseline": "middle", "dx": 261, "dy": -290, "font": "DejaVu Sans", "fontWeight": "bold", "fontSize": 28, "color": "#111", "stroke": "#111", "strokeWidth": 0.8}},
        {"data": {"values": [{}]}, "mark": {"type": "text", "text": "میلیارد بشکه، میلیون بشکه در روز)", "align": "right", "baseline": "middle", "dx": 261, "dy": -290, "font": "DejaVu Sans", "fontWeight": "bold", "fontSize": 28, "color": "#2f4ba0", "stroke": "#2f4ba0", "strokeWidth": 0.8}},
        {"data": {"values": [{}]}, "mark": {"type": "text", "text": "میلیارد بشکه)", "align": "right", "baseline": "middle", "dx": 261, "dy": -290, "font": "DejaVu Sans", "fontWeight": "bold", "fontSize": 28, "color": "#e0201b", "stroke": "#e0201b", "strokeWidth": 0.8}},
        {"data": {"values": [{}]}, "mark": {"type": "text", "text": ")", "align": "right", "baseline": "middle", "dx": 261, "dy": -290, "font": "DejaVu Sans", "fontWeight": "bold", "fontSize": 28, "color": "#111", "stroke": "#111", "strokeWidth": 0.8}}
      ]
    },

    {"width": 1, "height": 503, "data": {"values": []}, "mark": {"type": "point", "opacity": 0}},
    {"width": 1, "height": 1, "data": {"values": []}, "mark": {"type": "point", "opacity": 0}},
    {"width": 1, "height": 1, "data": {"values": []}, "mark": {"type": "point", "opacity": 0}},
    {"width": 1, "height": 1, "data": {"values": []}, "mark": {"type": "point", "opacity": 0}},

    {"width": 1, "height": 1, "data": {"values": []}, "mark": {"type": "point", "opacity": 0}},
    {
      "width": 1462, "height": 493,
      "data": {"name": "p4"},
      "resolve": {"scale": {"y": "independent"}},
      "layer": [
        {
          "encoding": {
            "x": {"field": "yr", "type": "nominal", "sort": null, "scale": {"paddingInner": 0.6, "paddingOuter": 0.3},
                  "axis": {"title": null, "labelAngle": 0, "labelExpr": "replace(replace(replace(replace(replace(replace(replace(replace(replace(replace(''+datum.label,/0/g,'۰'),/1/g,'۱'),/2/g,'۲'),/3/g,'۳'),/4/g,'۴'),/5/g,'۵'),/6/g,'۶'),/7/g,'۷'),/8/g,'۸'),/9/g,'۹')", "labelFont": "DejaVu Sans", "labelFontWeight": "bold", "labelFontSize": 34, "labelColor": "#111", "labelPadding": 26, "ticks": false, "domainColor": "#000", "domainWidth": 7}},
            "y": {"field": "v", "type": "quantitative", "scale": {"domain": [0, 450], "nice": false},
                  "axis": {"title": null, "values": [0, 50, 100, 150, 200, 250, 300, 350, 400, 450], "grid": false, "labelExpr": "replace(replace(replace(replace(replace(replace(replace(replace(replace(replace(''+datum.label,/0/g,'۰'),/1/g,'۱'),/2/g,'۲'),/3/g,'۳'),/4/g,'۴'),/5/g,'۵'),/6/g,'۶'),/7/g,'۷'),/8/g,'۸'),/9/g,'۹')", "labelColor": "#2e3a8c", "labelFontSize": 17, "labelFont": "DejaVu Sans", "labelFontWeight": "bold", "domainColor": "#3a4fa3", "domainWidth": 1.5, "tickColor": "#2e3a8c", "tickSize": 7, "tickWidth": 2, "labelPadding": 14}}
          },
          "layer": [
            {"mark": {"type": "bar", "color": "#3a4fa3"}},
            {"mark": {"type": "point", "shape": "M-1,-0.734L1,-0.734L1,0.734L-1,0.734Z", "size": 4096, "filled": true, "fill": "#dde7f6", "stroke": "#9fb4e0", "strokeWidth": 2, "opacity": 1, "yOffset": -28}, "encoding": {"y": {"datum": 0, "type": "quantitative"}}},
            {"mark": {"type": "text", "text": {"expr": "replace(replace(replace(replace(replace(replace(replace(replace(replace(replace(''+datum.v,/0/g,'۰'),/1/g,'۱'),/2/g,'۲'),/3/g,'۳'),/4/g,'۴'),/5/g,'۵'),/6/g,'۶'),/7/g,'۷'),/8/g,'۸'),/9/g,'۹')"}, "dy": -28, "baseline": "middle", "font": "DejaVu Sans", "fontWeight": "bold", "fontSize": 30, "color": "#3a4fa3"}, "encoding": {"y": {"datum": 0, "type": "quantitative"}}}
          ]
        },
        {
          "encoding": {
            "x": {"field": "yr", "type": "nominal", "sort": null},
            "y": {"field": "s", "type": "quantitative", "scale": {"domain": [0, 80], "nice": false},
                  "axis": {"orient": "right", "title": null, "values": [0, 10, 20, 30, 40, 50, 60, 70, 80], "grid": false, "labelExpr": "replace(replace(replace(replace(replace(replace(replace(replace(replace(replace(''+datum.label,/0/g,'۰'),/1/g,'۱'),/2/g,'۲'),/3/g,'۳'),/4/g,'۴'),/5/g,'۵'),/6/g,'۶'),/7/g,'۷'),/8/g,'۸'),/9/g,'۹')", "labelColor": "#d42a20", "labelFontSize": 17, "labelFont": "DejaVu Sans", "labelFontWeight": "bold", "domainColor": "#d42a20", "domainWidth": 1.5, "tickColor": "#d42a20", "tickSize": 7, "tickWidth": 2, "labelPadding": 11}}
          },
          "layer": [
            {"mark": {"type": "line", "color": "#e3221b", "strokeWidth": 6}},
            {"mark": {"type": "point", "filled": true, "color": "#e3221b", "size": 260, "opacity": 1}},
            {"mark": {"type": "point", "shape": "M-1,-0.726L1,-0.726L1,0.726L-1,0.726Z", "size": 5329, "filled": true, "color": "#fbe3d4", "opacity": 0.92, "yOffset": -35}},
            {"mark": {"type": "text", "text": {"expr": "replace(replace(replace(replace(replace(replace(replace(replace(replace(replace(''+datum.s,/0/g,'۰'),/1/g,'۱'),/2/g,'۲'),/3/g,'۳'),/4/g,'۴'),/5/g,'۵'),/6/g,'۶'),/7/g,'۷'),/8/g,'۸'),/9/g,'۹')"}, "dy": -35, "baseline": "middle", "font": "DejaVu Sans", "fontWeight": "bold", "fontSize": 34, "color": "#e3221b"}}
          ]
        },
        {"data": {"values": [{}]}, "mark": {"type": "point", "shape": "M-1,-0.18L1,-0.18L1,0.18L-1,0.18Z", "size": 59536, "filled": true, "fill": "#dcebf7", "stroke": "#6f93c0", "strokeWidth": 2, "opacity": 1, "xOffset": 661, "yOffset": -516}},
        {"data": {"values": [{}]}, "mark": {"type": "text", "text": "تصویر ۴", "align": "center", "baseline": "middle", "dx": 661, "dy": -516, "font": "DejaVu Sans", "fontWeight": "bold", "fontSize": 28, "color": "#111", "stroke": "#111", "strokeWidth": 0.6}},
        {"data": {"values": [{}]}, "mark": {"type": "text", "text": "میزان و سهم چین از خرید نفت ونزوئلا", "align": "right", "baseline": "middle", "dx": 527, "dy": -435, "font": "DejaVu Sans", "fontWeight": "bold", "fontSize": 56, "color": "#111", "stroke": "#111", "strokeWidth": 1.8}},
        {"data": {"values": [{}]}, "mark": {"type": "text", "text": "میزان و سهم", "align": "right", "baseline": "middle", "dx": 527, "dy": -435, "font": "DejaVu Sans", "fontWeight": "bold", "fontSize": 56, "color": "#e0201b", "stroke": "#e0201b", "strokeWidth": 1.8}},
        {"data": {"values": [{}]}, "mark": {"type": "text", "text": "میزان و", "align": "right", "baseline": "middle", "dx": 527, "dy": -435, "font": "DejaVu Sans", "fontWeight": "bold", "fontSize": 56, "color": "#111", "stroke": "#111", "strokeWidth": 1.8}},
        {"data": {"values": [{}]}, "mark": {"type": "text", "text": "میزان", "align": "right", "baseline": "middle", "dx": 527, "dy": -435, "font": "DejaVu Sans", "fontWeight": "bold", "fontSize": 56, "color": "#2f4ba0", "stroke": "#2f4ba0", "strokeWidth": 1.8}},
        {"data": {"values": [{}]}, "mark": {"type": "text", "text": "(هزار بشکه در روز، درصد)", "align": "right", "baseline": "middle", "dx": 254, "dy": -319, "font": "DejaVu Sans", "fontWeight": "bold", "fontSize": 39, "color": "#111", "stroke": "#111", "strokeWidth": 1.2}},
        {"data": {"values": [{}]}, "mark": {"type": "text", "text": "هزار بشکه در روز، درصد)", "align": "right", "baseline": "middle", "dx": 254, "dy": -319, "font": "DejaVu Sans", "fontWeight": "bold", "fontSize": 39, "color": "#e0201b", "stroke": "#e0201b", "strokeWidth": 1.2}},
        {"data": {"values": [{}]}, "mark": {"type": "text", "text": "هزار بشکه در روز)", "align": "right", "baseline": "middle", "dx": 254, "dy": -319, "font": "DejaVu Sans", "fontWeight": "bold", "fontSize": 39, "color": "#2f4ba0", "stroke": "#2f4ba0", "strokeWidth": 1.2}},
        {"data": {"values": [{}]}, "mark": {"type": "text", "text": ")", "align": "right", "baseline": "middle", "dx": 254, "dy": -319, "font": "DejaVu Sans", "fontWeight": "bold", "fontSize": 39, "color": "#111", "stroke": "#111", "strokeWidth": 1.2}}
      ]
    },
    {"width": 1, "height": 1, "data": {"values": []}, "mark": {"type": "point", "opacity": 0}},
    {
      "width": 1432, "height": 461,
      "data": {"name": "p3"},
      "layer": [
        {
          "encoding": {
            "x": {"field": "m", "type": "nominal", "sort": null, "scale": {"paddingInner": 0.62, "paddingOuter": 0.31},
                  "axis": {"title": null, "labelAngle": -45, "labelExpr": "indexof(['Jan','Mar','May','Jul','Sep','Nov'], slice(datum.label,0,3)) < 0 ? '' : (slice(datum.label,0,3) == 'Jan' ? datum.label : slice(datum.label,0,3))", "labelFont": "Liberation Sans", "labelFontSize": 24, "labelColor": "#404040", "labelPadding": 8, "ticks": false, "domainColor": "#d9d9d9", "domainWidth": 2}},
            "y": {"field": "v", "type": "quantitative", "scale": {"domain": [0, 1650], "nice": false}, "axis": null}
          },
          "layer": [
            {"mark": {"type": "bar", "color": "#3a4fa3"}},
            {
              "transform": [{"filter": {"field": "m", "oneOf": ["Sep-21", "Jan-23", "Oct-23", "Apr-24", "Sep-24", "Jan-25", "Jun-25"]}}],
              "mark": {"type": "text", "text": {"expr": "replace(replace(replace(replace(replace(replace(replace(replace(replace(replace(''+datum.v,/0/g,'۰'),/1/g,'۱'),/2/g,'۲'),/3/g,'۳'),/4/g,'۴'),/5/g,'۵'),/6/g,'۶'),/7/g,'۷'),/8/g,'۸'),/9/g,'۹')"}, "dy": -40, "baseline": "middle", "font": "DejaVu Sans", "fontWeight": "bold", "fontSize": 40, "color": "#3a4fa3"}
            },
            {
              "transform": [{"lookup": "m", "from": {"data": {"name": "notes"}, "key": "m", "fields": ["note"]}}, {"filter": "isValid(datum.note)"}],
              "mark": {"type": "point", "shape": "M-0.434,-1L0.434,-1L0.434,0.105L0.855,0.105L0,1L-0.855,0.105L-0.434,0.105Z", "size": 5776, "filled": true, "color": "#000", "opacity": 1, "yOffset": -117}
            },
            {
              "transform": [{"lookup": "m", "from": {"data": {"name": "notes"}, "key": "m", "fields": ["note"]}}, {"filter": "isValid(datum.note)"}],
              "mark": {"type": "text", "baseline": "alphabetic", "dy": -241, "lineHeight": 34, "font": "DejaVu Sans", "fontWeight": "bold", "fontSize": 19, "color": "#111"},
              "encoding": {"text": {"field": "note"}}
            }
          ]
        },
        {"data": {"values": [{}]}, "mark": {"type": "point", "shape": "M-1,-0.186L1,-0.186L1,0.186L-1,0.186Z", "size": 58564, "filled": true, "fill": "#dcebf7", "stroke": "#6f93c0", "strokeWidth": 2, "opacity": 1, "xOffset": 654, "yOffset": -500}},
        {"data": {"values": [{}]}, "mark": {"type": "text", "text": "تصویر ۳", "align": "center", "baseline": "middle", "dx": 654, "dy": -500, "font": "DejaVu Sans", "fontWeight": "bold", "fontSize": 28, "color": "#111", "stroke": "#111", "strokeWidth": 0.6}},
        {"data": {"values": [{}]}, "mark": {"type": "text", "text": "میزان تولید نفت ونزوئلا از سال ۲۰۲۱ تاکنون", "align": "right", "baseline": "middle", "dx": 456, "dy": -410, "font": "DejaVu Sans", "fontWeight": "bold", "fontSize": 42, "color": "#111", "stroke": "#111", "strokeWidth": 1.4}},
        {"data": {"values": [{}]}, "mark": {"type": "text", "text": "(هزار بشکه در روز)", "align": "right", "baseline": "middle", "dx": 128, "dy": -324, "font": "DejaVu Sans", "fontWeight": "bold", "fontSize": 29, "color": "#111", "stroke": "#111", "strokeWidth": 0.8}}
      ]
    }
  ]
}
